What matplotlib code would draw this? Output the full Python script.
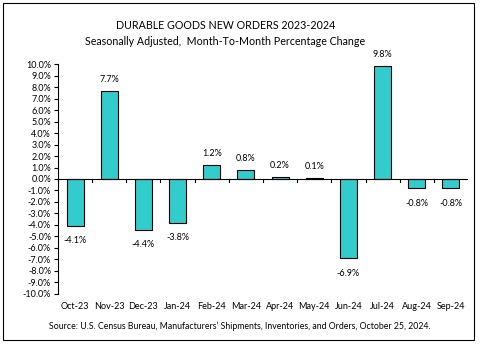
import matplotlib
matplotlib.use('Agg')
import matplotlib.pyplot as plt
from matplotlib.patches import Rectangle
from matplotlib.ticker import FuncFormatter, MultipleLocator
import numpy as np

months = ["Oct-23", "Nov-23", "Dec-23", "Jan-24", "Feb-24", "Mar-24",
          "Apr-24", "May-24", "Jun-24", "Jul-24", "Aug-24", "Sep-24"]
pct_change = [-4.1, 7.7, -4.4, -3.8, 1.2, 0.8, 0.2, 0.1, -6.9, 9.8, -0.8, -0.8]

plt.rcParams['font.family'] = ['Lato', 'DejaVu Sans']

fig = plt.figure(figsize=(4.83, 3.58), dpi=100)
ax = fig.add_axes([0.120, 0.179, 0.849, 0.642])

x = np.arange(len(months))
ax.bar(x, pct_change, width=0.5, color="#33CCCC", edgecolor="black", linewidth=0.8, zorder=3)

for xi, v in zip(x, pct_change):
    if v >= 0:
        ax.text(xi, v + 0.6, f"{v:.1f}%", ha="center", va="bottom", fontsize=6.5)
    else:
        ax.text(xi, v - 0.9, f"{v:.1f}%", ha="center", va="top", fontsize=6.5)

ax.set_xlim(-0.5, len(months) - 0.5)
ax.set_ylim(-10, 10)
ax.yaxis.set_major_locator(MultipleLocator(1))
ax.yaxis.set_major_formatter(FuncFormatter(lambda v, p: f"{v:.1f}%"))
ax.tick_params(axis="y", labelsize=6.5, length=3, width=0.8, pad=2)

for s in ["top", "right", "bottom"]:
    ax.spines[s].set_visible(False)
ax.spines["left"].set_linewidth(0.8)
ax.axhline(0, color="black", linewidth=0.8, zorder=4)

# category boundary ticks on the zero line
for b in np.arange(0.5, len(months) - 0.5, 1):
    ax.plot([b, b], [0, -0.25], color="black", linewidth=0.8, zorder=4)

ax.set_xticks(x)
ax.set_xticklabels(months, fontsize=6.5)
ax.tick_params(axis="x", length=0, pad=6)

fig.text(0.467, 0.930, "DURABLE GOODS NEW ORDERS 2023-2024", ha="center", va="center", fontsize=7.7)
fig.text(0.467, 0.883, "Seasonally Adjusted,  Month-To-Month Percentage Change", ha="center", va="center", fontsize=7.7)
fig.text(0.497, 0.089, "Source: U.S. Census Bureau, Manufacturers\u2019 Shipments, Inventories, and Orders, October 25, 2024.",
         ha="center", va="center", fontsize=6.3)

fig.patches.append(Rectangle((3 / 483, 1 - 340 / 358), 471 / 483, 337 / 358,
                             transform=fig.transFigure, fill=False, edgecolor="black", linewidth=0.8))

fig.savefig("out.png", dpi=100)
